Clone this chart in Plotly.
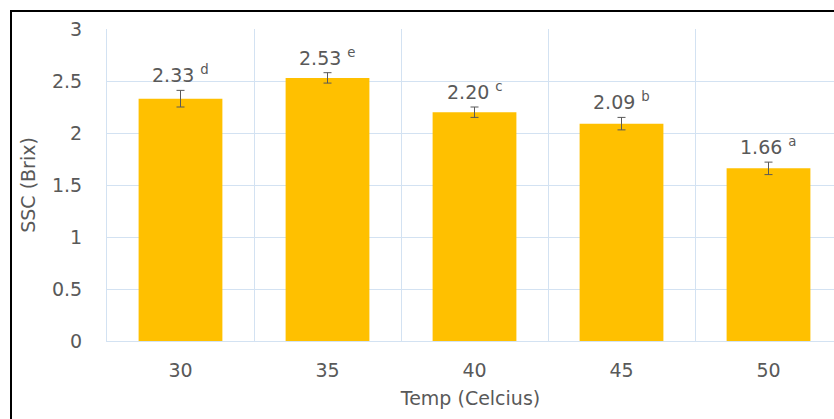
import plotly.graph_objects as go

# Soluble solids content by storage temperature
temps = [30, 35, 40, 45, 50]
ssc = [2.33, 2.53, 2.20, 2.09, 1.66]
ssc_err = [0.08, 0.05, 0.05, 0.06, 0.06]
groups = ["d", "e", "c", "b", "a"]

W, H = 834, 419
L, R, T, B = 107, 0, 29, 78
plot_w = W - L - R
plot_h = H - T - B
cat_px = 147  # pixel width of one temperature slot
step = 5
x0 = temps[0] - step / 2
x1 = x0 + plot_w / cat_px * step

font = "DejaVu Sans, Verdana, sans-serif"
grey = "#595959"
grid = "#D3E2F2"

fig = go.Figure()
fig.add_trace(go.Bar(
    x=temps, y=ssc, width=step * 0.57,
    marker=dict(color="#FFC000", line=dict(width=0)),
    error_y=dict(type="data", array=ssc_err, visible=True,
                 color=grey, thickness=1, width=4),
    hoverinfo="skip",
))

for t, v, e, g in zip(temps, ssc, ssc_err, groups):
    fig.add_annotation(
        x=t, y=v + e, yanchor="bottom", yshift=2, showarrow=False,
        text=f"{v:.2f} <sup>{g}</sup>",
        font=dict(family=font, size=19, color=grey),
    )

def px_x(p):
    return (p - L) / plot_w

def px_y(p):
    return (H - B - p) / plot_h

# outer frame around the chart
fig.add_shape(type="rect", xref="paper", yref="paper",
              x0=px_x(11), x1=px_x(W + 20), y0=px_y(H + 20), y1=px_y(11),
              line=dict(color="#000000", width=2), fillcolor="rgba(0,0,0,0)")

fig.update_layout(
    width=W, height=H,
    margin=dict(l=L, r=R, t=T, b=B, pad=0),
    paper_bgcolor="white", plot_bgcolor="white",
    showlegend=False,
    font=dict(family=font, size=19, color=grey),
    xaxis=dict(
        range=[x0, x1], tickvals=temps, ticktext=[str(t) for t in temps],
        showgrid=False, zeroline=False, ticks="",
        showline=True, linecolor=grid, linewidth=1,
        ticklabelstandoff=12,
        minor=dict(tick0=x0, dtick=step, showgrid=True, gridcolor=grid, gridwidth=1),
        title=dict(text="Temp (Celcius)", standoff=11, font=dict(size=19, color=grey)),
        tickfont=dict(size=19, color=grey),
    ),
    yaxis=dict(
        range=[0, 3], dtick=0.5, showgrid=True, gridcolor=grid, gridwidth=1,
        zeroline=False, ticks="",
        showline=True, linecolor=grid, linewidth=1,
        ticklabelstandoff=20,
        title=dict(text="SSC (Brix)", standoff=11, font=dict(size=19, color=grey)),
        tickfont=dict(size=19, color=grey),
    ),
)

fig.write_html("out.html")
